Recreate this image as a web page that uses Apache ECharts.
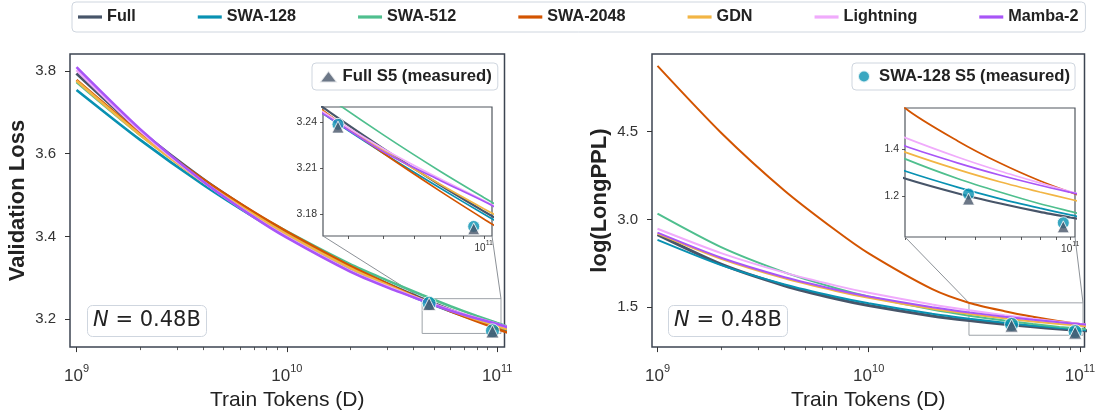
<!DOCTYPE html>
<html><head><meta charset="utf-8">
<script src="https://cdn.jsdelivr.net/npm/echarts@6.0.0/dist/echarts.min.js"></script>
<style>html,body{margin:0;padding:0;background:#fff}#c{width:1103px;height:416px}</style>
</head><body><div id="c"></div>
<script>
// ---------- data ----------
const trainTokens = [1e9, 2e9, 4e9, 7e9, 1e10, 2e10, 3e10, 4.4e10, 6e10, 8e10, 1e11, 1.15e11];
const modelNames = ['Full', 'SWA-128', 'SWA-512', 'SWA-2048', 'GDN', 'Lightning', 'Mamba-2'];
const modelColors = ['#475569', '#0891b2', '#4fbf8e', '#d35400', '#f2b544', '#f0abfc', '#a855f7'];

// Validation loss (left panel)
const lossFull      = [3.794, 3.656, 3.538, 3.456, 3.409, 3.327, 3.286, 3.2495, 3.2225, 3.199, 3.1819, 3.1715];
const lossSWA128    = [3.754, 3.634, 3.525, 3.446, 3.401, 3.321, 3.281, 3.2455, 3.2195, 3.197, 3.1801, 3.1699];
const lossSWA512    = [3.773, 3.646, 3.535, 3.457, 3.412, 3.333, 3.294, 3.2585, 3.2315, 3.208, 3.1909, 3.1805];
const lossSWA2048   = [3.778, 3.650, 3.538, 3.458, 3.412, 3.329, 3.286, 3.2475, 3.2195, 3.195, 3.1769, 3.166];
const lossGDN       = [3.776, 3.646, 3.532, 3.452, 3.405, 3.3235, 3.283, 3.2469, 3.2215, 3.1995, 3.1836, 3.174];
const lossLightning = [3.802, 3.656, 3.532, 3.447, 3.399, 3.317, 3.279, 3.2465, 3.2225, 3.203, 3.1889, 3.1795];
const lossMamba2    = [3.809, 3.660, 3.533, 3.446, 3.397, 3.315, 3.277, 3.2455, 3.2205, 3.202, 3.1884, 3.179];

// log(LongPPL) (right panel)
const pplFull      = [2.740, 2.236, 1.869, 1.646, 1.531, 1.354, 1.274, 1.211, 1.168, 1.132, 1.108, 1.094];
const pplSWA128    = [2.650, 2.220, 1.890, 1.681, 1.569, 1.390, 1.306, 1.237, 1.188, 1.148, 1.119, 1.103];
const pplSWA512    = [3.097, 2.526, 2.096, 1.827, 1.685, 1.462, 1.358, 1.274, 1.216, 1.167, 1.134, 1.114];
const pplSWA2048   = [5.620, 4.480, 3.490, 2.810, 2.420, 1.810, 1.575, 1.435, 1.340, 1.265, 1.216, 1.190];
const pplGDN       = [2.760, 2.330, 1.995, 1.780, 1.664, 1.476, 1.387, 1.313, 1.260, 1.217, 1.186, 1.167];
const pplLightning = [2.840, 2.425, 2.092, 1.871, 1.749, 1.548, 1.449, 1.366, 1.306, 1.256, 1.219, 1.198];
const pplMamba2    = [2.774, 2.347, 2.015, 1.802, 1.687, 1.502, 1.413, 1.341, 1.289, 1.246, 1.216, 1.198];

// measured S5 points
const s5Tokens     = [4.75e10, 9.5e10];
const fullS5Loss   = [3.2367, 3.1705];
const swa128S5Loss = [3.2385, 3.172];
const fullS5PPL    = [1.187, 1.068];
const swa128S5PPL  = [1.2085, 1.085];

// ticks / ranges
const xMajorExp   = [9, 10, 11];
const xMinorMult  = [2, 3, 4, 5, 6, 7, 8, 9];
const lossTicks   = [3.2, 3.4, 3.6, 3.8];
const pplTicks    = [1.5, 3.0, 4.5];
const lossInsetTicks = [3.18, 3.21, 3.24];
const pplInsetTicks  = [1.2, 1.4];
const lossXRange = [8.969, 11.035];
const pplXRange  = [8.974, 11.022];
const lossYRange = [3.1328, 3.8408];
const pplYRange  = [0.822, 5.822];
const lossInsetD = [4.4e10, 1.043e11];
const lossInsetY = [3.1658, 3.2498];
const pplInsetD  = [2.985e10, 1.035e11];
const pplInsetY  = [1.0244, 1.577];
const lossInsetMinorD = [5e10, 6e10, 7e10, 8e10, 9e10, 1e11];
const pplInsetMinorD  = [3e10, 4e10, 5e10, 6e10, 7e10, 8e10, 9e10, 1e11];

// ---------- build ----------
const FONT = "'Liberation Sans', Arial, sans-serif";
const lg = Math.log10;
const logD = trainTokens.map(lg);
const pairs = vals => logD.map((x, i) => [x, vals[i]]);
const s5Pairs = vals => s5Tokens.map((d, i) => [lg(d), vals[i]]);
const lossData = [lossFull, lossSWA128, lossSWA512, lossSWA2048, lossGDN, lossLightning, lossMamba2];
const pplData = [pplFull, pplSWA128, pplSWA512, pplSWA2048, pplGDN, pplLightning, pplMamba2];
const xMinorLog = [];
[9, 10].forEach(e => xMinorMult.forEach(m => xMinorLog.push(e + lg(m))));

const tickColor = '#333';
const expFmt = v => '{b|10}{s|' + Math.round(v) + '}';
const mainRich = {
  b: {fontFamily: FONT, fontSize: 17, lineHeight: 22, color: tickColor, verticalAlign: 'bottom'},
  s: {fontFamily: FONT, fontSize: 11, lineHeight: 12, color: tickColor, verticalAlign: 'top'}
};
const insetRich = {
  b: {fontFamily: FONT, fontSize: 10, lineHeight: 13, color: tickColor, verticalAlign: 'bottom'},
  s: {fontFamily: FONT, fontSize: 7, lineHeight: 8, color: tickColor, verticalAlign: 'top'}
};

function mainX(grid, range) {
  return [{
    type: 'value', gridIndex: grid, min: range[0], max: range[1], position: 'bottom',
    axisLine: {show: false}, splitLine: {show: false},
    axisTick: {show: true, customValues: xMajorExp, length: 5, lineStyle: {color: tickColor, width: 1}},
    axisLabel: {show: true, customValues: xMajorExp, margin: 16, formatter: expFmt, rich: mainRich},
    name: 'Train Tokens (D)', nameLocation: 'middle', nameGap: 40,
    nameTextStyle: {fontFamily: FONT, fontSize: 21, color: '#222', lineHeight: 21}
  }, {
    type: 'value', gridIndex: grid, min: range[0], max: range[1], position: 'bottom',
    axisLine: {show: false}, splitLine: {show: false}, axisLabel: {show: false},
    axisTick: {show: true, customValues: xMinorLog, length: 3, lineStyle: {color: tickColor, width: 0.8}}
  }];
}
function mainY(grid, range, ticks, name) {
  return {
    type: 'value', gridIndex: grid, min: range[0], max: range[1],
    axisLine: {show: false}, splitLine: {show: false},
    axisTick: {show: true, customValues: ticks, length: 5, lineStyle: {color: tickColor, width: 1}},
    axisLabel: {customValues: ticks, margin: 14, fontFamily: FONT, fontSize: 15, color: tickColor,
      formatter: v => v.toFixed(1)},
    name: name, nameLocation: 'middle', nameGap: 41,
    nameTextStyle: {fontFamily: FONT, fontSize: 22, fontWeight: 'bold', color: '#222', lineHeight: 22}
  };
}
function insetX(grid, dRange, minorD) {
  return {
    type: 'value', gridIndex: grid, min: lg(dRange[0]), max: lg(dRange[1]), position: 'bottom',
    axisLine: {show: false}, splitLine: {show: false},
    axisTick: {show: true, customValues: minorD.map(lg), length: 3, lineStyle: {color: tickColor, width: 0.8}},
    axisLabel: {customValues: [11], margin: 4, formatter: expFmt, rich: insetRich}
  };
}
function insetY(grid, range, ticks, dec) {
  return {
    type: 'value', gridIndex: grid, min: range[0], max: range[1],
    axisLine: {show: false}, splitLine: {show: false},
    axisTick: {show: true, customValues: ticks, length: 3, lineStyle: {color: tickColor, width: 0.8}},
    axisLabel: {customValues: ticks, margin: 6, fontFamily: FONT, fontSize: 10.5, color: tickColor,
      formatter: v => v.toFixed(dec)}
  };
}

const series = [];
const panels = [
  {x: 0, y: 0, data: lossData, w: 2.6, wf: 3.2, circ: swa128S5Loss, tri: fullS5Loss, cs: 14, ts: 13,
   rect: [[lg(lossInsetD[0]), lossInsetY[0]], [lg(lossInsetD[1]), lossInsetY[1]]]},
  {x: 2, y: 1, data: pplData, w: 2.0, wf: 3.0, circ: swa128S5PPL, tri: fullS5PPL, cs: 14, ts: 13,
   rect: [[lg(pplInsetD[0]), pplInsetY[0]], [lg(pplInsetD[1]), pplInsetY[1]]]},
  {x: 4, y: 2, data: lossData, w: 1.7, wf: 2.2, circ: swa128S5Loss, tri: fullS5Loss, cs: 12, ts: 12},
  {x: 5, y: 3, data: pplData, w: 1.7, wf: 2.2, circ: swa128S5PPL, tri: fullS5PPL, cs: 12, ts: 12}
];
panels.forEach(p => {
  modelNames.forEach((name, k) => {
    const s = {
      type: 'line', name: name, xAxisIndex: p.x, yAxisIndex: p.y, data: pairs(p.data[k]),
      showSymbol: false, symbol: 'none', smooth: 0.25, clip: true,
      lineStyle: {color: modelColors[k], width: k === 0 ? p.wf : p.w},
      itemStyle: {color: modelColors[k]}, emphasis: {disabled: true}, z: 2
    };
    if (k === 0 && p.rect) {
      s.markArea = {silent: true, label: {show: false},
        itemStyle: {color: 'rgba(0,0,0,0)', borderColor: '#9ea3a9', borderWidth: 1},
        data: [[{coord: p.rect[0]}, {coord: p.rect[1]}]]};
    }
    series.push(s);
  });
  series.push({type: 'scatter', name: 'SWA-128 S5 (measured)', xAxisIndex: p.x, yAxisIndex: p.y,
    data: s5Pairs(p.circ), symbol: 'circle', symbolSize: p.cs, clip: false,
    itemStyle: {color: '#0891b2', borderColor: '#fff', borderWidth: 1}, emphasis: {disabled: true}, z: 5});
  series.push({type: 'scatter', name: 'Full S5 (measured)', xAxisIndex: p.x, yAxisIndex: p.y,
    data: s5Pairs(p.tri), symbol: 'triangle', symbolSize: p.ts, clip: false,
    itemStyle: {color: '#475569', borderColor: '#fff', borderWidth: 1}, emphasis: {disabled: true}, z: 6});
});

const boxBorder = '#cfd6df';
const nTitle = left => ({
  left: left, top: 305, text: '{i|N} = 0.48B', padding: [4, 6, 4, 6],
  borderColor: boxBorder, borderWidth: 1, borderRadius: 5, backgroundColor: '#fff',
  textStyle: {fontFamily: "'DejaVu Sans', sans-serif", fontSize: 21, fontWeight: 'normal', color: '#222', lineHeight: 24,
    rich: {i: {fontFamily: "'DejaVu Sans', sans-serif", fontStyle: 'italic', fontSize: 21, lineHeight: 24, color: '#222'}}}
});

const option = {
  animation: false,
  backgroundColor: '#fff',
  title: [nTitle(87), nTitle(668)],
  grid: [
    {left: 70, top: 54, width: 434.5, height: 295, show: true, borderColor: '#3c4451', borderWidth: 1.5, backgroundColor: 'transparent'},
    {left: 652, top: 54, width: 432.5, height: 295, show: true, borderColor: '#3c4451', borderWidth: 1.5, backgroundColor: 'transparent'},
    {left: 323, top: 107, width: 169, height: 129, show: true, borderColor: '#50565e', borderWidth: 1.2, backgroundColor: '#fff'},
    {left: 905, top: 108, width: 170, height: 129, show: true, borderColor: '#50565e', borderWidth: 1.2, backgroundColor: '#fff'}
  ],
  xAxis: [...mainX(0, lossXRange), ...mainX(1, pplXRange), insetX(2, lossInsetD, lossInsetMinorD), insetX(3, pplInsetD, pplInsetMinorD)],
  yAxis: [mainY(0, lossYRange, lossTicks, 'Validation Loss'), mainY(1, pplYRange, pplTicks, 'log(LongPPL)'),
          insetY(2, lossInsetY, lossInsetTicks, 2), insetY(3, pplInsetY, pplInsetTicks, 1)],
  legend: [
    {data: modelNames.map(n => ({name: n, icon: 'rect'})), left: 72, top: 2, orient: 'horizontal',
     itemWidth: 24, itemHeight: 3.2, itemGap: 62, padding: [6, 7, 6, 6],
     borderColor: boxBorder, borderWidth: 1, borderRadius: 4, backgroundColor: '#fff', selectedMode: false,
     textStyle: {fontFamily: FONT, fontWeight: 'bold', fontSize: 16.2, color: '#222', lineHeight: 18}},
    {data: [{name: 'Full S5 (measured)', icon: 'triangle'}], left: 312, top: 63,
     itemWidth: 18, itemHeight: 12, padding: [5, 6, 5, 6.5], symbolKeepAspect: true,
     borderColor: boxBorder, borderWidth: 1, borderRadius: 4, backgroundColor: '#fff', selectedMode: false,
     textStyle: {fontFamily: FONT, fontWeight: 'bold', fontSize: 16.7, color: '#222', lineHeight: 17}},
    {data: [{name: 'SWA-128 S5 (measured)', icon: 'circle'}], left: 852, top: 63,
     itemWidth: 20, itemHeight: 12, padding: [5, 5, 5, 5], symbolKeepAspect: true,
     borderColor: boxBorder, borderWidth: 1, borderRadius: 4, backgroundColor: '#fff', selectedMode: false,
     textStyle: {fontFamily: FONT, fontWeight: 'bold', fontSize: 16.7, color: '#222', lineHeight: 17}}
  ],
  series: series
};

const chart = echarts.init(document.getElementById('c'), null, {renderer: 'canvas'});
chart.setOption(option);

// connector lines from zoom rectangles to inset corners
function px(xi, yi, pt) { return chart.convertToPixel({xAxisIndex: xi, yAxisIndex: yi}, pt); }
const conn = [];
[[0, 0, 4, 2, lossInsetD, lossInsetY], [2, 1, 5, 3, pplInsetD, pplInsetY]].forEach(c => {
  const [mx, my, ix, iy, dR, yR] = c;
  [lg(dR[0]), lg(dR[1])].forEach(xv => {
    const a = px(mx, my, [xv, yR[1]]);
    const b = px(ix, iy, [xv, yR[0]]);
    conn.push({type: 'line', silent: true, z: 1,
      shape: {x1: a[0], y1: a[1], x2: b[0], y2: b[1]},
      style: {stroke: '#8c9197', lineWidth: 1}});
  });
});
chart.setOption({graphic: conn});
</script></body></html>
